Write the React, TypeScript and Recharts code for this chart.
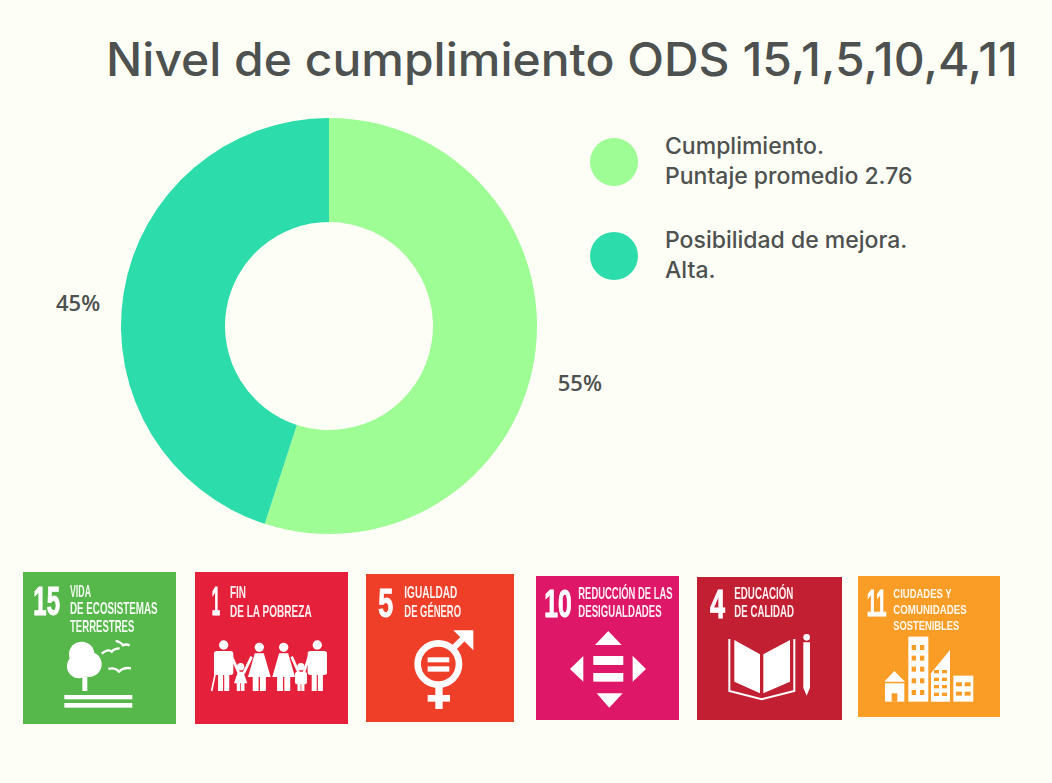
import { PieChart, Pie, Cell, Legend } from "recharts";

const SLICE_NAMES = ["Cumplimiento.\nPuntaje promedio 2.76", "Posibilidad de mejora.\nAlta."];
const SLICE_VALUES = [55, 45];
const SLICE_COLORS = ["#9efd94", "#2cdcaa"];

const GOAL_NUMBERS = ["15", "1", "5", "10", "4", "11"];
const GOAL_LABELS = [
  ["VIDA", "DE ECOSISTEMAS", "TERRESTRES"],
  ["FIN", "DE LA POBREZA"],
  ["IGUALDAD", "DE GÉNERO"],
  ["REDUCCIÓN DE LAS", "DESIGUALDADES"],
  ["EDUCACIÓN", "DE CALIDAD"],
  ["CIUDADES Y", "COMUNIDADES", "SOSTENIBLES"],
];
const GOAL_COLORS = ["#56b74b", "#e5203a", "#f03f29", "#de1768", "#c31f33", "#fa9d26"];

const TITLE = "Nivel de cumplimiento ODS 15,1,5,10,4,11";

const BG = "#fdfef6";
const TEXT = "#4d514f";
const data = SLICE_NAMES.map((name, i) => ({ name, value: SLICE_VALUES[i] }));

// tile layout in page px: box, then number and label lines in zoomed (x3) units
const TILES = [
  { box: [23, 572, 153, 152], org: [15, 565], labelSize: 48, num: [55, 135, 150, 122], lines: [[165, 228, 95], [165, 428, 148], [165, 358, 200]] },
  { box: [195, 572, 153, 152], org: [15, 565], labelSize: 48, num: [590, 615, 150, 122], lines: [[645, 693, 100], [645, 890, 155]] },
  { box: [366, 574, 148, 148], org: [360, 565], labelSize: 48, num: [55, 100, 155, 122], lines: [[133, 292, 100], [133, 303, 155]] },
  { box: [536, 576, 143, 144], org: [360, 565], labelSize: 48, num: [553, 635, 155, 116], lines: [[655, 938, 102], [655, 905, 155]] },
  { box: [697, 577, 145, 143], org: [690, 565], labelSize: 48, num: [60, 105, 158, 120], lines: [[133, 310, 103], [133, 312, 156]] },
  { box: [858, 576, 142, 141], org: [690, 565], labelSize: 41, num: [530, 590, 152, 112], lines: [[610, 785, 100], [610, 830, 148], [610, 808, 195]] },
];

const LABEL_SQUEEZE = 0.56;
const DIGIT_EM = 0.556;

function TreeIcon() {
  return (
    <g fill="#fff">
      <circle cx="200" cy="268" r="38" />
      <circle cx="222" cy="298" r="38" />
      <circle cx="192" cy="304" r="36" />
      <circle cx="205" cy="285" r="30" />
      <rect x="202" y="335" width="15" height="43" />
      <rect x="148" y="390" width="204" height="13" />
      <rect x="148" y="414" width="204" height="14" />
      <g fill="none" stroke="#fff" strokeWidth="7">
        <path d="M260 266 Q280 250 290 260 Q298 250 314 250" />
        <path d="M302 228 Q318 232 324 241 Q332 236 344 241" />
        <path d="M280 312 Q300 306 312 320 Q326 306 348 310" />
      </g>
    </g>
  );
}

function Person({ x, top, w, r, skirt }: { x: number; top: number; w: number; r: number; skirt?: boolean }) {
  const h = 378 - top;
  const neck = top + r + 4;
  return (
    <g fill="#fff">
      <circle cx={x} cy={top} r={r} />
      {skirt ? (
        <polygon points={`${x - w * 0.2},${neck} ${x + w * 0.2},${neck} ${x + w * 0.5},${top + h * 0.68} ${x - w * 0.5},${top + h * 0.68}`} />
      ) : (
        <rect x={x - w * 0.5} y={neck} width={w} height={h * 0.52} rx={8} />
      )}
      <rect x={x - w * 0.29} y={top + h * 0.5} width={w * 0.26} height={h * 0.5} />
      <rect x={x + w * 0.03} y={top + h * 0.5} width={w * 0.26} height={h * 0.5} />
    </g>
  );
}

function FamilyIcon() {
  return (
    <g>
      <Person x={626} top={240} w={58} r={14} />
      <Person x={677} top={305} w={40} r={11} skirt />
      <Person x={733} top={247} w={68} r={14} skirt />
      <Person x={806} top={247} w={68} r={14} skirt />
      <Person x={858} top={305} w={36} r={11} />
      <Person x={907} top={240} w={58} r={14} />
      <g stroke="#fff" strokeWidth="8" fill="none">
        <path d="M602 320 L590 378" strokeWidth="5" />
        <path d="M650 275 L672 325" />
        <path d="M710 275 L686 325" />
        <path d="M830 275 L852 325" />
        <path d="M882 275 L866 325" />
      </g>
    </g>
  );
}

function GenderIcon() {
  return (
    <g>
      <circle cx="235" cy="297" r="62" fill="none" stroke="#fff" strokeWidth="20" />
      <rect x="203" y="277" width="65" height="15" fill="#fff" />
      <rect x="203" y="304" width="65" height="16" fill="#fff" />
      <path d="M282 248 L322 208" stroke="#fff" strokeWidth="18" />
      <polygon points="280,196 340,196 340,256" fill="#fff" />
      <rect x="226" y="365" width="22" height="67" fill="#fff" />
      <rect x="203" y="390" width="67" height="20" fill="#fff" />
    </g>
  );
}

function ArrowsIcon() {
  return (
    <g fill="#fff">
      <polygon points="745,198 705,240 785,240" />
      <polygon points="710,385 788,385 748,428" />
      <polygon points="670,273 670,350 630,312" />
      <polygon points="818,272 818,350 858,312" />
      <rect x="700" y="273" width="90" height="27" />
      <rect x="700" y="324" width="90" height="26" />
    </g>
  );
}

function BookIcon() {
  return (
    <g>
      <polygon points="133,225 210,268 210,385 133,350" fill="#fff" />
      <polygon points="220,268 300,225 300,350 220,385" fill="#fff" />
      <path d="M118 222 L118 378 L215 403 L313 378 L313 222" fill="none" stroke="#fff" strokeWidth="6" />
      <circle cx="350" cy="217" r="10" fill="#fff" />
      <polygon points="340,232 360,232 360,368 350,392 340,368" fill="#fff" />
    </g>
  );
}

function CityIcon() {
  const orange = GOAL_COLORS[5];
  const rows = [240, 272, 305, 340, 375];
  return (
    <g>
      <polygon points="583,350 613,318 645,350" fill="#fff" />
      <rect x="585" y="355" width="58" height="55" fill="#fff" />
      <rect x="605" y="385" width="17" height="25" fill={orange} />
      <rect x="655" y="215" width="60" height="195" fill="#fff" />
      {rows.map((y) => (
        <g key={y} fill={orange}>
          <rect x="665" y={y} width="13" height="15" />
          <rect x="690" y={y} width="13" height="15" />
        </g>
      ))}
      <polygon points="723,410 723,325 780,255 780,410" fill="#fff" />
      {[315, 338, 360, 383].map((y) => (
        <g key={y} fill={orange}>
          <rect x="732" y={y} width="15" height="10" />
          <rect x="756" y={y} width="15" height="10" />
        </g>
      ))}
      <rect x="790" y="332" width="60" height="78" fill="#fff" />
      {[352, 380].map((y) => (
        <g key={y} fill={orange}>
          <rect x="798" y={y} width="18" height="12" />
          <rect x="824" y={y} width="18" height="12" />
        </g>
      ))}
    </g>
  );
}

const ICONS = [TreeIcon, FamilyIcon, GenderIcon, ArrowsIcon, BookIcon, CityIcon];

function SliceLabel({ cx, cy, midAngle, value }: any) {
  const rad = (-midAngle * Math.PI) / 180;
  return (
    <text
      x={cx + 254 * Math.cos(rad)}
      y={cy + 254 * Math.sin(rad) + 16}
      textAnchor="middle"
      dominantBaseline="central"
      fontFamily="Open Sans"
      fontWeight={600}
      fontSize={22}
      fill={TEXT}
    >
      {value}%
    </text>
  );
}

function LegendBlock({ payload }: any) {
  return (
    <div style={{ fontFamily: "Inter", fontSize: 23, fontWeight: 500, lineHeight: "30px", color: TEXT }}>
      {(payload ?? []).map((p: any) => (
        <div key={p.value} style={{ display: "flex", alignItems: "center", height: 60, marginBottom: 34 }}>
          <div style={{ width: 48, height: 48, borderRadius: 24, background: p.color, marginRight: 27 }} />
          <div style={{ whiteSpace: "pre", position: "relative", top: -1 }}>{p.value}</div>
        </div>
      ))}
    </div>
  );
}

// squeezed bold text: the transform does the narrowing so the text box stays narrow too
function TileText({ x, x2, y, size, squeeze, bold, opacity, children }: any) {
  return (
    <text
      transform={`translate(${x},${y}) scale(${squeeze},1)`}
      fontFamily="'Liberation Sans'"
      fontWeight={700}
      fontSize={size}
      fill="#fff"
      fillOpacity={opacity}
      stroke={bold ? "#fff" : undefined}
      strokeWidth={bold ? 3 : undefined}
      textLength={(x2 - x) / squeeze}
      lengthAdjust="spacingAndGlyphs"
    >
      {children}
    </text>
  );
}

export default function App() {
  return (
    <div style={{ position: "absolute", left: 0, top: 0, width: 1052, height: 783, background: BG, overflow: "hidden" }}>
      <PieChart width={1052} height={783} margin={{ top: 0, right: 0, bottom: 0, left: 0 }}>
        <Pie
          data={data}
          dataKey="value"
          nameKey="name"
          cx={329}
          cy={326}
          innerRadius={104}
          outerRadius={208}
          startAngle={90}
          endAngle={-270}
          stroke="none"
          label={SliceLabel}
          labelLine={false}
          isAnimationActive={false}
        >
          {data.map((d, i) => (
            <Cell key={d.name} fill={SLICE_COLORS[i]} />
          ))}
        </Pie>
        <Legend
          content={LegendBlock}
          wrapperStyle={{ position: "absolute", left: 590, top: 132, width: 400, bottom: "auto" }}
        />
      </PieChart>

      <svg width={1052} height={783} style={{ position: "absolute", left: 0, top: 0 }}>
        <text x={106} y={76} fontFamily="Inter" fontWeight={550} fontSize={46} fill={TEXT} textLength={912} lengthAdjust="spacingAndGlyphs">
          {TITLE}
        </text>
        {TILES.map((t, i) => {
          const Icon = ICONS[i];
          const num = GOAL_NUMBERS[i];
          const numSqueeze = (t.num[1] - t.num[0]) / (num.length * DIGIT_EM * t.num[3]);
          return (
            <g key={num} style={{ filter: "blur(0.4px)" }}>
              <rect x={t.box[0]} y={t.box[1]} width={t.box[2]} height={t.box[3]} fill={GOAL_COLORS[i]} />
              <g transform={`translate(${t.org[0]},${t.org[1]}) scale(0.3333)`}>
                <TileText x={t.num[0]} x2={t.num[1]} y={t.num[2]} size={t.num[3]} squeeze={numSqueeze} bold>
                  {num}
                </TileText>
                {GOAL_LABELS[i].map((line, j) => (
                  <TileText key={line} x={t.lines[j][0]} x2={t.lines[j][1]} y={t.lines[j][2]} size={t.labelSize} squeeze={LABEL_SQUEEZE} opacity={0.92}>
                    {line}
                  </TileText>
                ))}
                <Icon />
              </g>
            </g>
          );
        })}
      </svg>
    </div>
  );
}
